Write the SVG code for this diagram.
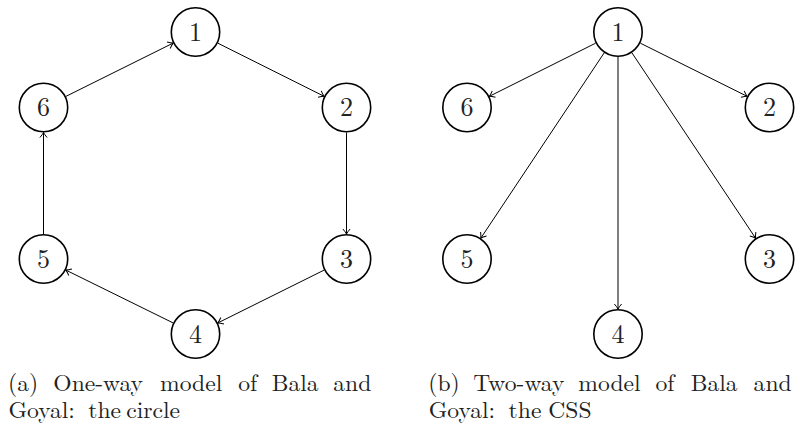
<svg xmlns="http://www.w3.org/2000/svg" width="798" height="428" viewBox="0 0 798 428">
<style>
.n circle{fill:#fff;stroke:#000;stroke-width:1.6}
.n text{font-size:26px;text-anchor:middle;fill:#222}
.e line{stroke:#000;stroke-width:1;marker-end:url(#ah)}
.cap{font-size:23.6px;fill:#222}
</style>
<defs>
<marker id="ah" markerUnits="userSpaceOnUse" markerWidth="12" markerHeight="12" viewBox="-8 -6 10 12" refX="0" refY="0" orient="auto">
<path d="M-5,-3.6 Q-2,-1 0,0 Q-2,1 -5,3.6" fill="none" stroke="#000" stroke-width="1"/>
</marker>
</defs>
<g id="edges" class="e">
<line x1="65.9" y1="96.4" x2="173.1" y2="43.1"/>
<line x1="217.9" y1="43.2" x2="324.1" y2="96.3"/>
<line x1="346.5" y1="132.5" x2="346.5" y2="234"/>
<line x1="324.1" y1="270.1" x2="217.9" y2="322.9"/>
<line x1="173.1" y1="322.9" x2="65.9" y2="270.1"/>
<line x1="43.5" y1="234" x2="43.5" y2="132.5"/>
<line x1="595.6" y1="43.2" x2="489.4" y2="96.3"/>
<line x1="640.4" y1="43.2" x2="747.1" y2="96.3"/>
<line x1="604.2" y1="52.8" x2="480.8" y2="238.2"/>
<line x1="631.9" y1="52.8" x2="755.6" y2="238.2"/>
<line x1="618" y1="57" x2="618" y2="309"/>
</g>
<g font-family="Latin Modern Roman, Liberation Serif, serif">
<g id="a1" class="n"><circle cx="195.5" cy="32" r="24.2"/><text x="195.5" y="40.5">1</text></g>
<g id="a2" class="n"><circle cx="346.5" cy="107.5" r="24.2"/><text x="346.5" y="116">2</text></g>
<g id="a3" class="n"><circle cx="346.5" cy="259" r="24.2"/><text x="346.5" y="267.5">3</text></g>
<g id="a4" class="n"><circle cx="195.5" cy="334" r="24.2"/><text x="195.5" y="342.5">4</text></g>
<g id="a5" class="n"><circle cx="43.5" cy="259" r="24.2"/><text x="43.5" y="267.5">5</text></g>
<g id="a6" class="n"><circle cx="43.5" cy="107.5" r="24.2"/><text x="43.5" y="116">6</text></g>
<g id="b1" class="n"><circle cx="618" cy="32" r="24.2"/><text x="618" y="40.5">1</text></g>
<g id="b2" class="n"><circle cx="769.5" cy="107.5" r="24.2"/><text x="769.5" y="116">2</text></g>
<g id="b3" class="n"><circle cx="769.5" cy="259" r="24.2"/><text x="769.5" y="267.5">3</text></g>
<g id="b4" class="n"><circle cx="618" cy="334" r="24.2"/><text x="618" y="342.5">4</text></g>
<g id="b5" class="n"><circle cx="467" cy="259" r="24.2"/><text x="467" y="267.5">5</text></g>
<g id="b6" class="n"><circle cx="467" cy="107.5" r="24.2"/><text x="467" y="116">6</text></g>
<g id="caption-a" class="cap">
<text x="8" y="391">(a)</text><text x="53.3" y="391">One-way</text><text x="160" y="391">model</text><text x="238.3" y="391">of</text><text x="271.7" y="391">Bala</text><text x="333.3" y="391">and</text>
<text x="8.5" y="418">Goyal:</text><text x="88.3" y="418">the</text><text x="126.3" y="418">circle</text>
</g>
<g id="caption-b" class="cap">
<text x="428.3" y="391">(b)</text><text x="473.3" y="391">Two-way</text><text x="578.3" y="391">model</text><text x="655.5" y="391">of</text><text x="690.7" y="391">Bala</text><text x="753.6" y="391">and</text>
<text x="428.8" y="418">Goyal:</text><text x="508.6" y="418">the</text><text x="548.3" y="418">CSS</text>
</g>
</g>
</svg>
